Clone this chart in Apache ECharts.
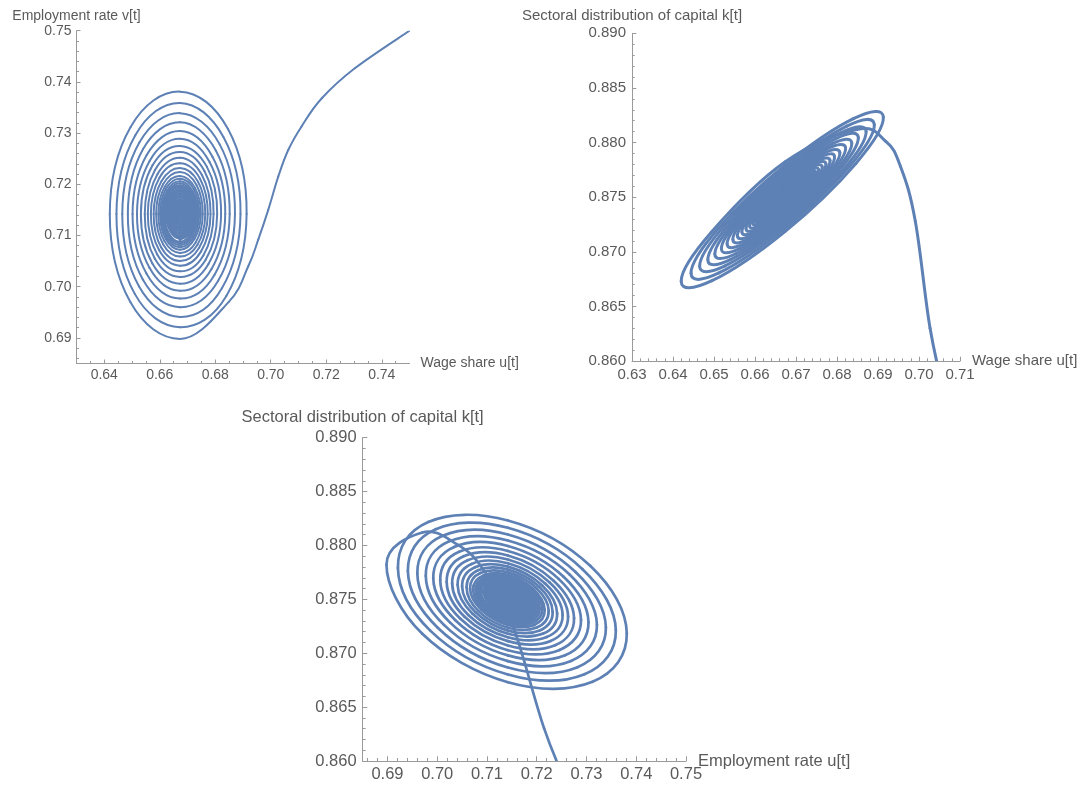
<!DOCTYPE html>
<html>
<head>
<meta charset="utf-8">
<script src="https://cdn.jsdelivr.net/npm/echarts@6/dist/echarts.min.js"></script>
<style>
  html, body { margin: 0; padding: 0; background: #ffffff; }
  #chart { width: 1086px; height: 786px; }
</style>
</head>
<body>
<div id="chart"></div>
<script>
// Trajectory of the wage share u, employment rate v and sectoral capital k.
// Opening transient followed by the outer turns of the spiral (8 samples per turn).
const wageShareU = [
  0.7500, 0.7304, 0.7184, 0.7111, 0.7063, 0.7027, 0.6991, 0.6955, 0.6919, 0.6848,
  0.6673, 0.6494, 0.6420, 0.6495, 0.6673, 0.6846, 0.6913, 0.6840,
  0.6673, 0.6510, 0.6444, 0.6512, 0.6673, 0.6830, 0.6891, 0.6824,
  0.6673, 0.6525, 0.6465, 0.6527, 0.6673, 0.6816, 0.6871, 0.6810,
  0.6673, 0.6539, 0.6485, 0.6540, 0.6673, 0.6802, 0.6852, 0.6797,
  0.6673, 0.6552, 0.6502, 0.6553, 0.6673, 0.6790, 0.6836, 0.6786,
  0.6673, 0.6563, 0.6518, 0.6564, 0.6673, 0.6779, 0.6821, 0.6775,
  0.6673, 0.6573, 0.6532, 0.6574, 0.6673, 0.6770, 0.6807, 0.6766,
  0.6673, 0.6582, 0.6546, 0.6583, 0.6673, 0.6761, 0.6794, 0.6757,
  0.6673, 0.6591, 0.6557, 0.6592, 0.6673, 0.6752, 0.6783, 0.6749,
  0.6673, 0.6598, 0.6568, 0.6599, 0.6673, 0.6745, 0.6773, 0.6742,
  0.6673, 0.6605, 0.6578, 0.6606, 0.6673, 0.6738, 0.6764, 0.6736,
  0.6673, 0.6612, 0.6587, 0.6612, 0.6673, 0.6732, 0.6755, 0.6730,
  0.6673, 0.6617, 0.6595, 0.6618, 0.6673, 0.6727, 0.6748, 0.6725,
  0.6673, 0.6622, 0.6601, 0.6622, 0.6673, 0.6723, 0.6742, 0.6721,
  0.6673, 0.6625, 0.6606, 0.6626, 0.6673, 0.6719, 0.6737, 0.6717,
  0.6673, 0.6628, 0.6610, 0.6629, 0.6673, 0.6716, 0.6733, 0.6715,
  0.6673, 0.6631, 0.6614, 0.6631, 0.6673, 0.6714, 0.6729, 0.6712,
  0.6673, 0.6633, 0.6617, 0.6634, 0.6673, 0.6711, 0.6726, 0.6710,
  0.6673
];
const employmentV = [
  0.7500, 0.7427, 0.7368, 0.7313, 0.7267, 0.7215, 0.7150, 0.7092, 0.7040, 0.6970,
  0.6898, 0.6970, 0.7142, 0.7312, 0.7381, 0.7308, 0.7142, 0.6982,
  0.6921, 0.6986, 0.7142, 0.7296, 0.7359, 0.7292, 0.7142, 0.6997,
  0.6941, 0.7001, 0.7142, 0.7282, 0.7339, 0.7278, 0.7142, 0.7011,
  0.6960, 0.7014, 0.7142, 0.7269, 0.7321, 0.7266, 0.7142, 0.7023,
  0.6977, 0.7026, 0.7142, 0.7257, 0.7304, 0.7254, 0.7142, 0.7034,
  0.6992, 0.7037, 0.7142, 0.7246, 0.7289, 0.7244, 0.7142, 0.7044,
  0.7006, 0.7046, 0.7142, 0.7237, 0.7275, 0.7234, 0.7142, 0.7053,
  0.7019, 0.7055, 0.7142, 0.7228, 0.7263, 0.7226, 0.7142, 0.7061,
  0.7030, 0.7063, 0.7142, 0.7220, 0.7252, 0.7218, 0.7142, 0.7069,
  0.7041, 0.7071, 0.7142, 0.7213, 0.7241, 0.7211, 0.7142, 0.7076,
  0.7050, 0.7077, 0.7142, 0.7206, 0.7232, 0.7205, 0.7142, 0.7082,
  0.7059, 0.7083, 0.7142, 0.7200, 0.7224, 0.7199, 0.7142, 0.7087,
  0.7066, 0.7089, 0.7142, 0.7195, 0.7216, 0.7193, 0.7142, 0.7093,
  0.7072, 0.7093, 0.7142, 0.7191, 0.7211, 0.7190, 0.7142, 0.7096,
  0.7077, 0.7096, 0.7142, 0.7187, 0.7206, 0.7186, 0.7142, 0.7099,
  0.7081, 0.7099, 0.7142, 0.7184, 0.7202, 0.7183, 0.7142, 0.7102,
  0.7085, 0.7102, 0.7142, 0.7182, 0.7198, 0.7181, 0.7142, 0.7105,
  0.7088, 0.7104, 0.7142, 0.7180, 0.7195, 0.7179, 0.7142, 0.7107,
  0.7091
];
const capitalK = [
  0.7900, 0.8220, 0.8400, 0.8510, 0.8570, 0.8630, 0.8728, 0.8778, 0.8801, 0.8812,
  0.87821, 0.87180, 0.86731, 0.86735, 0.87185, 0.87809, 0.88232, 0.88218,
  0.87792, 0.87210, 0.86803, 0.86806, 0.87214, 0.87780, 0.88164, 0.88151,
  0.87764, 0.87237, 0.86868, 0.86871, 0.87241, 0.87754, 0.88102, 0.88090,
  0.87740, 0.87261, 0.86927, 0.86929, 0.87265, 0.87731, 0.88046, 0.88036,
  0.87718, 0.87284, 0.86980, 0.86982, 0.87287, 0.87709, 0.87995, 0.87986,
  0.87697, 0.87304, 0.87028, 0.87031, 0.87307, 0.87690, 0.87949, 0.87941,
  0.87679, 0.87322, 0.87072, 0.87074, 0.87325, 0.87672, 0.87907, 0.87900,
  0.87662, 0.87338, 0.87112, 0.87114, 0.87341, 0.87656, 0.87870, 0.87862,
  0.87647, 0.87353, 0.87148, 0.87150, 0.87356, 0.87642, 0.87835, 0.87829,
  0.87634, 0.87367, 0.87181, 0.87182, 0.87369, 0.87628, 0.87804, 0.87798,
  0.87621, 0.87380, 0.87210, 0.87212, 0.87381, 0.87616, 0.87776, 0.87770,
  0.87610, 0.87391, 0.87237, 0.87239, 0.87392, 0.87606, 0.87750, 0.87745,
  0.87600, 0.87401, 0.87262, 0.87263, 0.87402, 0.87596, 0.87727, 0.87722,
  0.87592, 0.87408, 0.87280, 0.87281, 0.87410, 0.87589, 0.87710, 0.87706,
  0.87586, 0.87415, 0.87295, 0.87296, 0.87416, 0.87582, 0.87695, 0.87691,
  0.87580, 0.87420, 0.87308, 0.87309, 0.87421, 0.87577, 0.87682, 0.87679,
  0.87575, 0.87425, 0.87320, 0.87321, 0.87426, 0.87572, 0.87671, 0.87668,
  0.87571, 0.87429, 0.87330, 0.87331, 0.87430, 0.87568, 0.87662, 0.87659,
  0.87568
];

// Tight inner turns closing in on the equilibrium (4 samples per turn).
const coreU = [
  0.6673, 0.6620, 0.6673, 0.6724,
  0.6673, 0.6623, 0.6673, 0.6721,
  0.6673, 0.6626, 0.6673, 0.6718,
  0.6673, 0.6629, 0.6673, 0.6715,
  0.6673, 0.6633, 0.6673, 0.6712,
  0.6673, 0.6636, 0.6673, 0.6709,
  0.6673, 0.6639, 0.6673, 0.6706,
  0.6673, 0.6642, 0.6673, 0.6703,
  0.6673, 0.6645, 0.6673, 0.6700,
  0.6673, 0.6648, 0.6673, 0.6697,
  0.6673, 0.6651, 0.6673, 0.6694,
  0.6673, 0.6655, 0.6673, 0.6691,
  0.6673, 0.6658, 0.6673, 0.6688,
  0.6673, 0.6661, 0.6673, 0.6685,
  0.6673, 0.6664, 0.6673, 0.6681,
  0.6673, 0.6667, 0.6673, 0.6679,
  0.6673, 0.6670, 0.6673, 0.6676,
  0.6673
];
const coreV = [
  0.7091, 0.7142, 0.7192, 0.7142,
  0.7094, 0.7142, 0.7189, 0.7142,
  0.7097, 0.7142, 0.7186, 0.7142,
  0.7100, 0.7142, 0.7183, 0.7142,
  0.7103, 0.7142, 0.7180, 0.7142,
  0.7106, 0.7142, 0.7177, 0.7142,
  0.7109, 0.7142, 0.7174, 0.7142,
  0.7112, 0.7142, 0.7171, 0.7142,
  0.7115, 0.7142, 0.7168, 0.7142,
  0.7118, 0.7142, 0.7165, 0.7142,
  0.7121, 0.7142, 0.7162, 0.7142,
  0.7124, 0.7142, 0.7159, 0.7142,
  0.7127, 0.7142, 0.7156, 0.7142,
  0.7130, 0.7142, 0.7153, 0.7142,
  0.7133, 0.7142, 0.7150, 0.7142,
  0.7136, 0.7142, 0.7148, 0.7142,
  0.7139, 0.7142, 0.7145, 0.7142,
  0.7142
];
const coreK = [
  0.87568, 0.87338, 0.87434, 0.87654,
  0.87564, 0.87348, 0.87438, 0.87645,
  0.87560, 0.87358, 0.87442, 0.87636,
  0.87556, 0.87367, 0.87445, 0.87626,
  0.87552, 0.87377, 0.87449, 0.87617,
  0.87547, 0.87386, 0.87453, 0.87608,
  0.87543, 0.87396, 0.87457, 0.87599,
  0.87539, 0.87406, 0.87461, 0.87590,
  0.87535, 0.87415, 0.87465, 0.87581,
  0.87531, 0.87425, 0.87469, 0.87572,
  0.87527, 0.87434, 0.87473, 0.87562,
  0.87523, 0.87444, 0.87477, 0.87553,
  0.87519, 0.87454, 0.87481, 0.87544,
  0.87515, 0.87463, 0.87485, 0.87535,
  0.87511, 0.87473, 0.87489, 0.87526,
  0.87508, 0.87482, 0.87492, 0.87517,
  0.87504, 0.87489, 0.87496, 0.87510,
  0.87500
];

// Labelled tick values of each axis.
const wageTicksTop = [0.64, 0.66, 0.68, 0.70, 0.72, 0.74];
const employmentTicksLeft = [0.69, 0.70, 0.71, 0.72, 0.73, 0.74, 0.75];
const wageTicksRight = [0.63, 0.64, 0.65, 0.66, 0.67, 0.68, 0.69, 0.70, 0.71];
const capitalTicks = [0.860, 0.865, 0.870, 0.875, 0.880, 0.885, 0.890];
const employmentTicksBottom = [0.69, 0.70, 0.71, 0.72, 0.73, 0.74, 0.75];

const FONT = "'Liberation Sans', Arial, sans-serif";
const TEXT_COLOR = '#5a5a5a';
const AXIS_COLOR = '#9a9a9a';
const CURVE_COLOR = '#5e81b5';

// Evenly stepped minor tick positions, leaving out the labelled ones.
function minorTicks(from, to, step, skip) {
  const out = [];
  const n = Math.round((to - from) / step);
  for (let i = 0; i <= n; i++) {
    const v = +(from + i * step).toFixed(4);
    if (!skip.some(s => Math.abs(s - v) < 1e-7)) out.push(v);
  }
  return out;
}

function labelledAxis(o) {
  return {
    type: 'value', gridIndex: o.grid, position: o.position,
    min: o.min, max: o.max,
    name: o.name, nameLocation: 'end', nameGap: o.nameGap, nameMoveOverlap: false,
    nameTextStyle: { color: TEXT_COLOR, fontSize: o.fontSize, fontFamily: FONT },
    axisLine: { show: true, onZero: false, lineStyle: { color: AXIS_COLOR, width: 1 } },
    axisTick: { show: true, inside: true, length: o.tickLength, customValues: o.ticks,
                lineStyle: { color: AXIS_COLOR, width: 1 } },
    axisLabel: { show: true, customValues: o.ticks, margin: o.margin,
                 color: TEXT_COLOR, fontSize: o.fontSize, fontFamily: FONT,
                 formatter: v => v.toFixed(o.digits) },
    splitLine: { show: false }
  };
}

function minorAxis(grid, position, min, max, values, length) {
  return {
    type: 'value', gridIndex: grid, position: position, min: min, max: max,
    axisLine: { show: false, onZero: false },
    axisLabel: { show: false },
    splitLine: { show: false },
    axisTick: { show: true, inside: true, length: length, customValues: values,
                lineStyle: { color: AXIS_COLOR, width: 1 } }
  };
}

// Draws a sampled trajectory as a smooth cardinal spline through its points.
function trajectorySeries(xs, ys, axisIndex, tension, width) {
  const pts = xs.map((x, i) => [x, ys[i]]);
  const last = pts.length - 1;
  return {
    type: 'custom',
    coordinateSystem: 'cartesian2d',
    xAxisIndex: axisIndex, yAxisIndex: axisIndex,
    clip: true, silent: true,
    data: pts,
    renderItem: function (params, api) {
      const i = params.dataIndex;
      if (i >= last) return null;
      const at = j => api.coord(pts[Math.max(0, Math.min(last, j))]);
      const p0 = at(i - 1), p1 = at(i), p2 = at(i + 1), p3 = at(i + 2);
      return {
        type: 'bezierCurve',
        shape: {
          x1: p1[0], y1: p1[1], x2: p2[0], y2: p2[1],
          cpx1: p1[0] + (p2[0] - p0[0]) * tension,
          cpy1: p1[1] + (p2[1] - p0[1]) * tension,
          cpx2: p2[0] - (p3[0] - p1[0]) * tension,
          cpy2: p2[1] - (p3[1] - p1[1]) * tension
        },
        style: { stroke: CURVE_COLOR, lineWidth: width, fill: 'none', lineCap: 'round' }
      };
    }
  };
}

const OUTER_TENSION = 0.1875;
const CORE_TENSION = 0.276;

const chart = echarts.init(document.getElementById('chart'), null, { renderer: 'canvas' });
chart.setOption({
  animation: false,
  backgroundColor: '#ffffff',
  textStyle: { fontFamily: FONT },
  grid: [
    { left: 76.5, top: 30.7, width: 333, height: 332.8, containLabel: false, outerBoundsMode: 'none' },
    { left: 632, top: 33.3, width: 328, height: 327.7, containLabel: false, outerBoundsMode: 'none' },
    { left: 362.6, top: 437.7, width: 323.4, height: 323.3, containLabel: false, outerBoundsMode: 'none' }
  ],
  xAxis: [
    labelledAxis({ grid: 0, position: 'bottom', min: 0.63, max: 0.75, ticks: wageTicksTop, digits: 2,
                   name: 'Wage share u[t]', nameGap: 11, margin: 5, fontSize: 14, tickLength: 4 }),
    minorAxis(0, 'bottom', 0.63, 0.75, minorTicks(0.635, 0.745, 0.005, wageTicksTop), 2.5),
    labelledAxis({ grid: 1, position: 'bottom', min: 0.63, max: 0.71, ticks: wageTicksRight, digits: 2,
                   name: 'Wage share u[t]', nameGap: 12, margin: 6, fontSize: 15, tickLength: 4.3 }),
    minorAxis(1, 'bottom', 0.63, 0.71, minorTicks(0.632, 0.708, 0.002, wageTicksRight), 2.7),
    labelledAxis({ grid: 2, position: 'bottom', min: 0.685, max: 0.75, ticks: employmentTicksBottom, digits: 2,
                   name: 'Employment rate u[t]', nameGap: 12, margin: 5, fontSize: 16.5, tickLength: 4.7 }),
    minorAxis(2, 'bottom', 0.685, 0.75, minorTicks(0.686, 0.748, 0.002, employmentTicksBottom), 3)
  ],
  yAxis: [
    labelledAxis({ grid: 0, position: 'left', min: 0.685, max: 0.75, ticks: employmentTicksLeft, digits: 2,
                   name: 'Employment rate v[t]', nameGap: 8, margin: 5, fontSize: 14, tickLength: 4 }),
    minorAxis(0, 'left', 0.685, 0.75, minorTicks(0.686, 0.748, 0.002, employmentTicksLeft), 2.5),
    labelledAxis({ grid: 1, position: 'left', min: 0.86, max: 0.89, ticks: capitalTicks, digits: 3,
                   name: 'Sectoral distribution of capital k[t]', nameGap: 10, margin: 6, fontSize: 15, tickLength: 4.3 }),
    minorAxis(1, 'left', 0.86, 0.89, minorTicks(0.861, 0.889, 0.001, capitalTicks), 2.7),
    labelledAxis({ grid: 2, position: 'left', min: 0.86, max: 0.89, ticks: capitalTicks, digits: 3,
                   name: 'Sectoral distribution of capital k[t]', nameGap: 12, margin: 6, fontSize: 16.5, tickLength: 4.7 }),
    minorAxis(2, 'left', 0.86, 0.89, minorTicks(0.861, 0.889, 0.001, capitalTicks), 3)
  ],
  series: [
    trajectorySeries(wageShareU, employmentV, 0, OUTER_TENSION, 2),
    trajectorySeries(coreU, coreV, 0, CORE_TENSION, 2),
    trajectorySeries(wageShareU, capitalK, 2, OUTER_TENSION, 3),
    trajectorySeries(coreU, coreK, 2, CORE_TENSION, 3),
    trajectorySeries(employmentV, capitalK, 4, OUTER_TENSION, 2.7),
    trajectorySeries(coreV, coreK, 4, CORE_TENSION, 2.7)
  ]
});
</script>
</body>
</html>
